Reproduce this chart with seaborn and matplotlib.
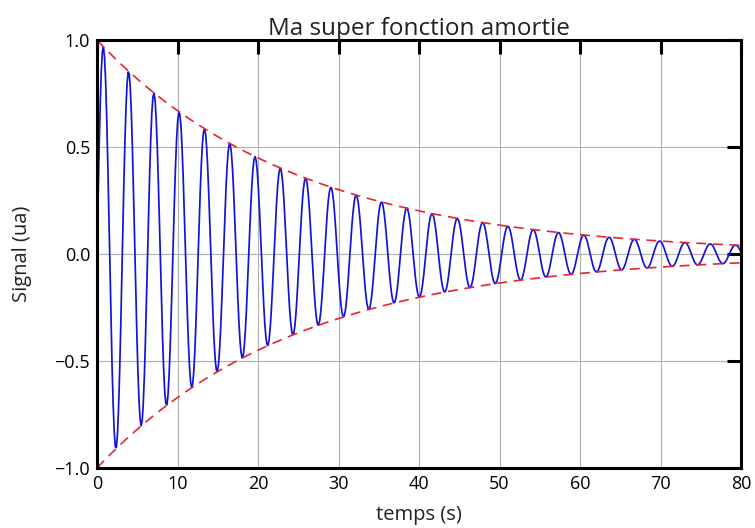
import numpy as np
import pandas as pd
import matplotlib
matplotlib.use("Agg")
import matplotlib.pyplot as plt
import seaborn as sns

# Parameters: damped sine, period ~pi s, decay time ~25 s
t_start, t_end, n_points = 0.0, 80.0, 600
pulsation = 2.0          # rad/s (period ~3.14 s)
tau = 25.0               # s, envelope exp(-t/tau)
x_ticks = [0, 10, 20, 30, 40, 50, 60, 70, 80]
y_ticks = [-1.0, -0.5, 0.0, 0.5, 1.0]
y_tick_labels = ["\u22121.0", "\u22120.5", "0.0", "0.5", "1.0"]
title = "Ma super fonction amortie"
x_label = "temps (s)"
y_label = "Signal (ua)"

t = np.linspace(t_start, t_end, n_points)
envelope = np.exp(-t / tau)
signal = np.sin(pulsation * t) * envelope
df = pd.DataFrame({"t": t, "signal": signal, "env_up": envelope, "env_down": -envelope})

sns.set_style("white")
plt.rcParams["font.family"] = ["Open Sans", "DejaVu Sans"]

fig = plt.figure(figsize=(7.55, 5.28), dpi=100)
ax = fig.add_axes([0.1285, 0.1136, 0.853, 0.8104])

sns.lineplot(data=df, x="t", y="signal", ax=ax, color="#1414d8", linewidth=1.25)
sns.lineplot(data=df, x="t", y="env_up", ax=ax, color="#e8242c", linewidth=1.2,
             linestyle=(0, (6, 4)))
sns.lineplot(data=df, x="t", y="env_down", ax=ax, color="#e8242c", linewidth=1.2,
             linestyle=(0, (6, 4)))

ax.set_xlim(0, 80)
ax.set_ylim(-1.0, 1.0)
ax.set_xticks(x_ticks)
ax.set_xticklabels([str(v) for v in x_ticks])
ax.set_yticks(y_ticks)
ax.set_yticklabels(y_tick_labels)
ax.grid(True, color="#b0b0b0", linewidth=0.8, linestyle="-")
ax.set_axisbelow(True)

for s in ax.spines.values():
    s.set_visible(True)
    s.set_color("black")
    s.set_linewidth(2.2)

ax.tick_params(axis="both", which="major", direction="in", length=10, width=2.2,
               top=True, right=True, labelsize=13, pad=5, colors="black")

ax.set_title(title, fontsize=17.5, pad=4, color="#222222")
ax.set_xlabel(x_label, fontsize=14.5, labelpad=9, color="#222222")
ax.set_ylabel(y_label, fontsize=14.5, labelpad=16, color="#222222")

fig.savefig("out.png", dpi=100)
